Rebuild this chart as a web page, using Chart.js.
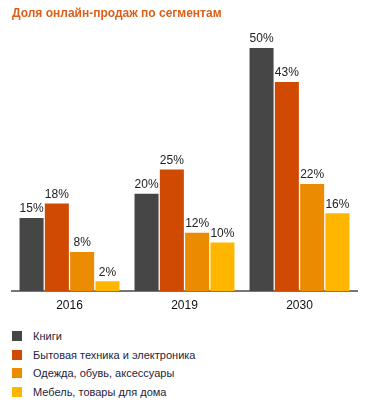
<!DOCTYPE html>
<html lang="ru">
<head>
<meta charset="utf-8">
<title>Доля онлайн-продаж по сегментам</title>
<script src="https://cdn.jsdelivr.net/npm/chart.js@4/dist/chart.umd.min.js"></script>
<style>
  body { margin: 0; background: #fff; font-family: "Liberation Sans", Arial, sans-serif; }
  #wrap { position: relative; width: 379px; height: 320px; }
  #legend { list-style: none; margin: 0; padding: 7px 0 0 12px; }
  #legend li { height: 18.6px; display: flex; align-items: center; font-size: 11px; color: #1e1e3c; }
  #legend span { display: inline-block; width: 10px; height: 10px; margin-right: 11px; }
</style>
</head>
<body>
<div id="wrap"><canvas id="salesChart"></canvas></div>
<ul id="legend"></ul>
<script>
// Data
const years = ["2016", "2019", "2030"];
const segments = [
  "Книги",
  "Бытовая техника и электроника",
  "Одежда, обувь, аксессуары",
  "Мебель, товары для дома"
];
const books = [15, 20, 50];
const electronics = [18, 25, 43];
const clothing = [8, 12, 22];
const furniture = [2, 10, 16];
const colors = ["#464646", "#d04a02", "#eb8c00", "#ffb600"];

const seriesValues = [books, electronics, clothing, furniture];

// Draws the "15%" labels above each bar
const valueLabels = {
  id: "valueLabels",
  afterDatasetsDraw(chart) {
    const ctx = chart.ctx;
    ctx.save();
    ctx.font = "12px 'Liberation Sans', Arial, sans-serif";
    ctx.fillStyle = "#222";
    ctx.textAlign = "center";
    ctx.textBaseline = "middle";
    chart.data.datasets.forEach((ds, i) => {
      chart.getDatasetMeta(i).data.forEach((bar, j) => {
        ctx.fillText(ds.data[j] + "%", bar.x, bar.y - 9);
      });
    });
    ctx.restore();
  }
};

const ctx = document.getElementById("salesChart").getContext("2d");
new Chart(ctx, {
  type: "bar",
  data: {
    labels: years,
    datasets: seriesValues.map((values, i) => ({
      label: segments[i],
      data: values,
      backgroundColor: colors[i],
      barPercentage: 0.95,
      categoryPercentage: 0.88
    }))
  },
  options: {
    responsive: true,
    maintainAspectRatio: false,
    animation: false,
    layout: { padding: { left: 12, right: 22, top: 0, bottom: 0.6 } },
    plugins: {
      legend: { display: false },
      tooltip: { enabled: false },
      title: {
        display: true,
        text: "Доля онлайн-продаж по сегментам",
        align: "start",
        color: "#d9601a",
        font: { family: "'Liberation Sans', Arial, sans-serif", size: 12, weight: "bold" },
        padding: { top: 6.5, bottom: 17.3 }
      }
    },
    scales: {
      x: {
        grid: { display: false, drawTicks: false },
        border: { display: true, color: "#767676", width: 2 },
        ticks: {
          color: "#111",
          padding: 7,
          font: { family: "'Liberation Sans', Arial, sans-serif", size: 12 }
        }
      },
      y: {
        display: false,
        min: 0,
        max: 52
      }
    }
  },
  plugins: [valueLabels]
});

// Legend, one item per row
const legend = document.getElementById("legend");
segments.forEach((name, i) => {
  const li = document.createElement("li");
  const box = document.createElement("span");
  box.style.background = colors[i];
  li.appendChild(box);
  li.appendChild(document.createTextNode(name));
  legend.appendChild(li);
});
</script>
</body>
</html>
